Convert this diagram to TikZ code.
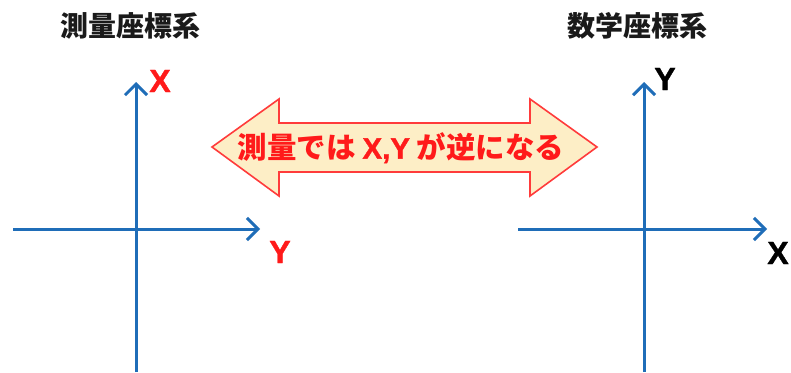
\documentclass[tikz,border=0pt]{standalone}
\usepackage{fontspec}
\newfontfamily\jp{Noto Sans CJK JP}
\newfontfamily\latb{Liberation Sans}[BoldFeatures={FakeBold=1.2}]
\usetikzlibrary{arrows.meta}
\definecolor{axblue}{HTML}{1F6DB8}
\definecolor{lblred}{HTML}{FF1A1A}
\definecolor{cream}{HTML}{FDEEC6}
\definecolor{arrred}{HTML}{FF3B3B}
\definecolor{titlegray}{HTML}{1A1A1A}
\tikzset{
  axis/.style={draw=axblue, line width=3pt, -{Straight Barb[length=11pt,width=22pt,line width=3pt]}},
  axisplain/.style={draw=axblue, line width=3pt},
  title/.style={font=\jp\bfseries\fontsize{28}{30}\selectfont, text=titlegray},
  redlbl/.style={font=\latb\bfseries\fontsize{32}{34}\selectfont, text=lblred, inner sep=0pt},
  blklbl/.style={font=\latb\bfseries\fontsize{32}{34}\selectfont, text=black, inner sep=0pt},
  banner/.style={draw=arrred, line width=1.6pt, fill=cream, line join=miter},
  bannertext/.style={font=\jp\bfseries\fontsize{29.5}{31}\selectfont, text=lblred}
}
\begin{document}
\begin{tikzpicture}[x=1pt,y=-1pt]
\useasboundingbox[fill=white] (0,0) rectangle (791,372);
% titles
\node[title] (t1) at (130,26) {測量座標系};
\node[title] (t2) at (637,26) {数学座標系};
% left axes
\coordinate (lo1) at (136,229);
\coordinate (lvb) at (136,372);
\coordinate (lvt) at (136,82);
\coordinate (lhl) at (13,229);
\coordinate (lhr) at (260,229);
\draw[axisplain] (lvb) -- (lo1);
\draw[axis] (lo1) -- (lvt);
\draw[axisplain] (lhl) -- (lo1);
\draw[axis] (lo1) -- (lhr);
\node[redlbl] (lx) at (160,81) {X};
\node[redlbl] (ly) at (280,252) {Y};
% right axes
\coordinate (ro1) at (644,229);
\coordinate (rvb) at (644,372);
\coordinate (rvt) at (644,82);
\coordinate (rhl) at (518,229);
\coordinate (rhr) at (767,229);
\draw[axisplain] (rvb) -- (ro1);
\draw[axis] (ro1) -- (rvt);
\draw[axisplain] (rhl) -- (ro1);
\draw[axis] (ro1) -- (rhr);
\node[blklbl] (ry) at (665,79) {Y};
\node[blklbl] (rx) at (778,253) {X};
% double arrow banner
\draw[banner] (212,147) -- (279,99) -- (279,123) -- (530,123) -- (530,99) -- (597,147)
  -- (530,196) -- (530,172) -- (279,172) -- (279,196) -- cycle;
\node[bannertext] (msg) at (401,148) {測量では {\latb\bfseries X,Y} が逆になる};
\end{tikzpicture}
\end{document}
